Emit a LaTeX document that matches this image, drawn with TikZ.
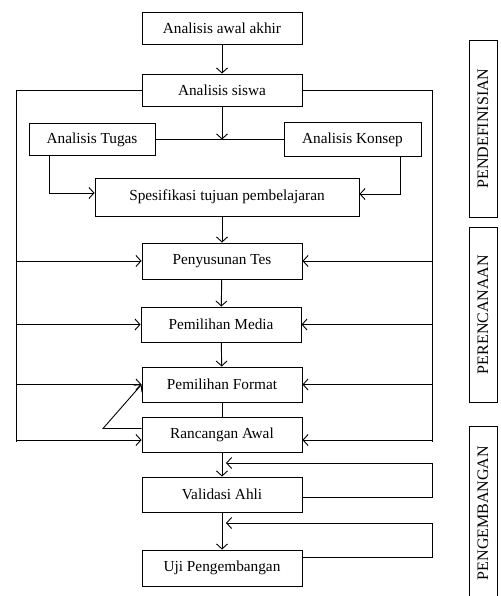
\documentclass[tikz,border=0pt]{standalone}
\usepackage{fontspec}
\setmainfont{Liberation Serif}
\usetikzlibrary{arrows.meta}

\begin{document}
\begin{tikzpicture}[x=1pt, y=-1pt, line width=0.9pt,
    box/.style={draw, rectangle, minimum width=160pt, minimum height=35pt, inner sep=0pt, font=\fontsize{15.3}{18}\selectfont},
    side/.style={draw, rectangle, rotate=90, minimum height=28pt, inner sep=0pt, font=\fontsize{16}{19}\selectfont},
    arr/.style={-{Straight Barb[length=5pt, width=11pt]}}]
    \useasboundingbox (0,0) rectangle (500,596);

    \node[box, minimum height=32pt] (awal) at (222,28) {Analisis awal akhir};
    \node[box, minimum height=32pt] (siswa) at (222,90) {Analisis siswa};
    \node[box, minimum width=126pt, minimum height=32pt] (tugas) at (92,139.5) {Analisis Tugas};
    \node[box, minimum width=137pt, minimum height=34pt] (konsep) at (352.5,139.5) {Analisis Konsep};
    \node[box, minimum width=264pt, minimum height=38pt] (spes) at (227,197) {Spesifikasi tujuan pembelajaran};
    \node[box, minimum height=36pt] (tes) at (222,261) {Penyusunan Tes};
    \node[box] (media) at (221,324.5) {Pemilihan Media};
    \node[box] (format) at (222,384.5) {Pemilihan Format};
    \node[box] (rancang) at (222,434.5) {Rancangan Awal};
    \node[box] (validasi) at (222,494.5) {Validasi Ahli};
    \node[box, minimum height=36pt] (uji) at (222,568) {Uji Pengembangan};

    \node[side, minimum width=177pt] (pendef) at (483,128.5) {PENDEFINISIAN};
    \node[side, minimum width=175pt] (perenc) at (483,314.5) {PERENCANAAN};
    \node[side, minimum width=174pt] (pengemb) at (483,513) {PENGEMBANGAN};

    \coordinate (kiri) at (16,90);
    \coordinate (kanan) at (432,90);
    \coordinate (tekuk) at (103,428.5);
    \coordinate (balik1) at (226,463);
    \coordinate (balik2) at (226,523);

    \draw[arr] (awal) -- (siswa);
    \draw[arr] (siswa) -- (siswa |- tugas.east);
    \draw (tugas) -- (konsep);
    \draw[arr] ([xshift=-43pt]tugas.south) |- ([yshift=4pt]spes.west);
    \draw[arr] ([xshift=47.5pt]konsep.south) |- ([yshift=3pt]spes.east);
    \draw[arr] (spes.south -| tes.north) -- (tes);
    \draw[arr] (tes) -- (media);
    \draw[arr] (media) -- (format);
    \draw (format) -- (rancang);
    \draw[arr] (rancang) -- (validasi);
    \draw[arr] (validasi) -- (uji);

    \draw (siswa.west) -- (kiri) -- (kiri |- 0,442);
    \draw (siswa.east) -- (kanan) -- (kanan |- 0,442);
    \draw[arr] (kiri |- tes.west) -- (tes.west);
    \draw[arr] (kiri |- media.west) -- (media.west);
    \draw[arr] (kiri |- format.west) -- (format.west);
    \draw[arr] (kiri |- 0,440) -- (rancang.west |- 0,440);
    \draw[arr] (kanan |- tes.east) -- (tes.east);
    \draw[arr] (kanan |- media.east) -- (media.east);
    \draw[arr] (kanan |- format.east) -- (format.east);
    \draw[arr] (kanan |- 0,440) -- (rancang.east |- 0,440);

    \draw[arr] ([yshift=6pt]rancang.west) -- (tekuk) -- (format.west);
    \draw[arr] ([yshift=-2.5pt]validasi.east) -| (kanan |- balik1) -- (balik1);
    \draw[arr] ([yshift=11pt]uji.east) -| (kanan |- balik2) -- (balik2);
\end{tikzpicture}
\end{document}
